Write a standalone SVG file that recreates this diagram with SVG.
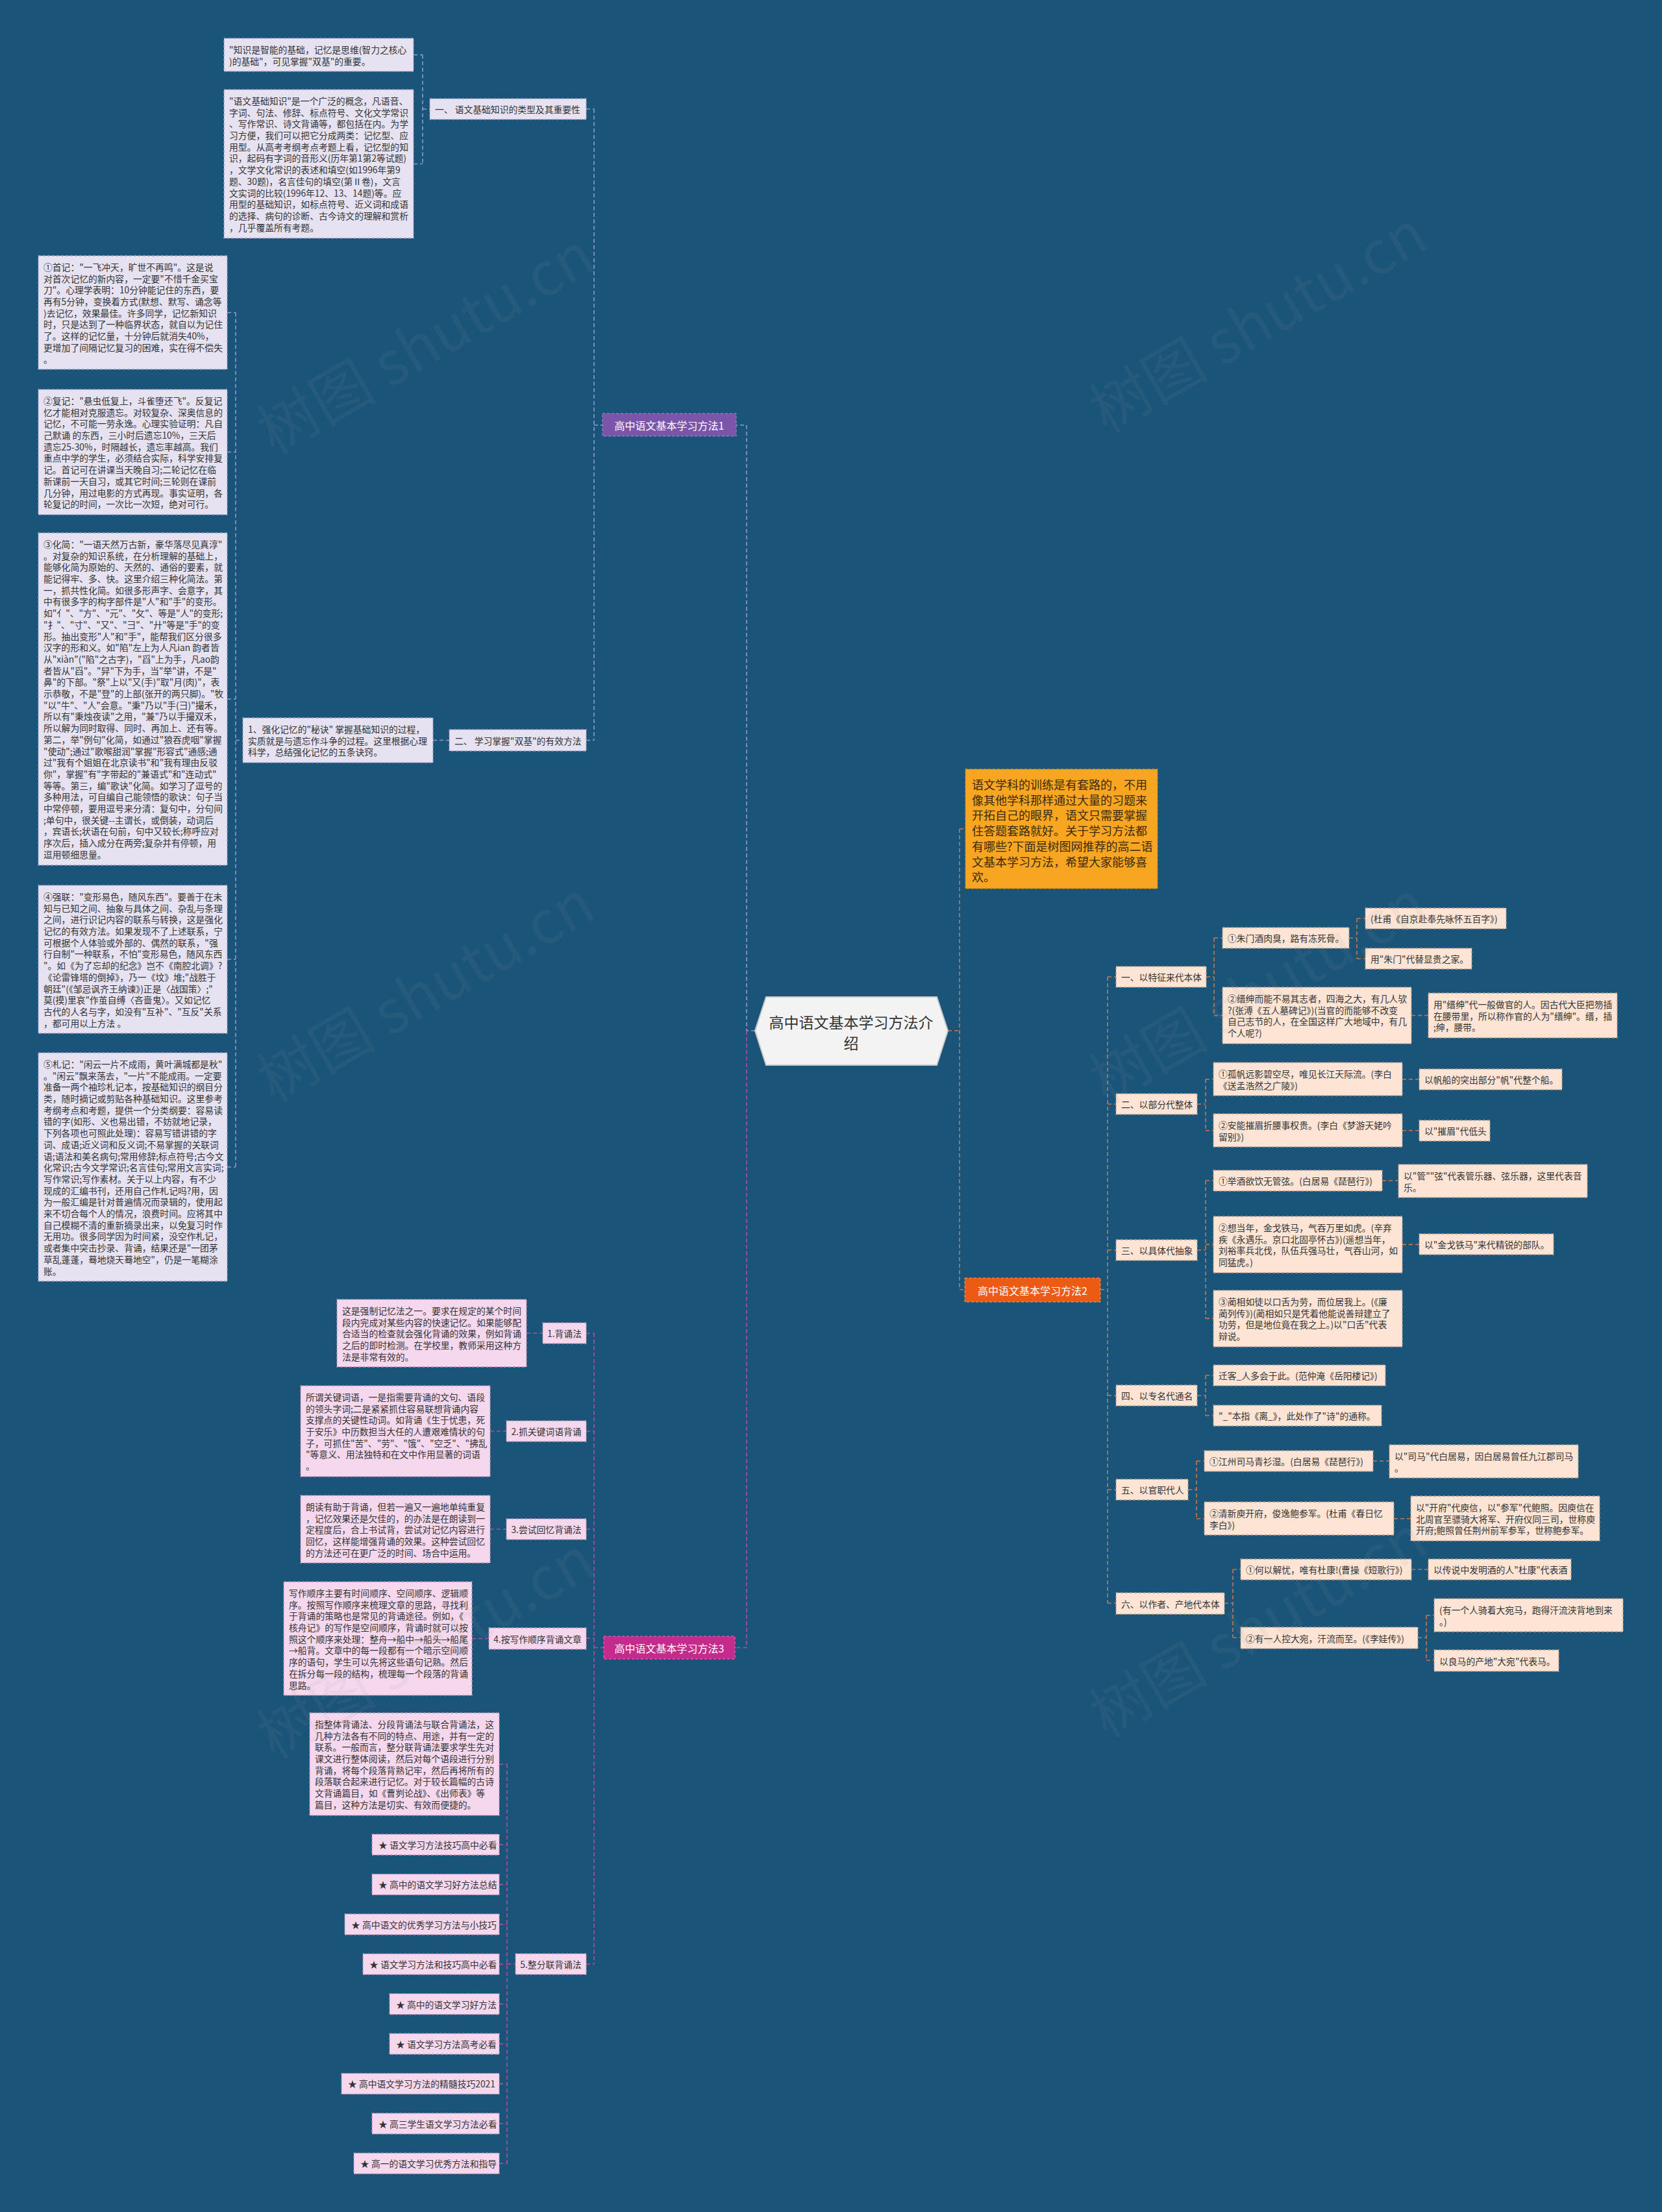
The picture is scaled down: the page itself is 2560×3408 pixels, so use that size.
<svg xmlns="http://www.w3.org/2000/svg" width="2560" height="3408" viewBox="0 0 2560 3408">
<style>
.t{font-family:"Noto Sans CJK SC","Noto Sans",sans-serif;font-size:13.8px;fill:#333;dominant-baseline:central}
.b1{fill:#e6e2f2;stroke:#9b9bc0;stroke-width:1.3;stroke-dasharray:4 3}
.b2{fill:#fde4d4;stroke:#b79b8a;stroke-width:1.3;stroke-dasharray:4 3}
.b3{fill:#f6d8ee;stroke:#b58fb0;stroke-width:1.3;stroke-dasharray:4 3}
.c{fill:none;stroke-width:1.6;stroke-dasharray:6 4}
.c1{stroke:#9296d4}.c2{stroke:#c8784a}.c3{stroke:#b44ba2}
.bt{font-family:"Noto Sans CJK SC","Noto Sans",sans-serif;font-size:16px;fill:#fff;dominant-baseline:central;text-anchor:middle}
.wm{font-family:"Noto Sans CJK SC","Noto Sans",sans-serif;font-size:92px;fill:#9a9a9a;opacity:0.09;text-anchor:middle;dominant-baseline:central}
</style>
<rect width="2560" height="3408" fill="#1a5479"/>
<g id="connectors">
<path class="c c1" d="M1163 1588H1150V655H1134M915 655H928M915 168V1140.5M903 168H915M903 1140.5H915M637 84.5H651M651 84.5V252.5M637 252.5H651M651 168H662M667 1140.5H692M363 481.5V1798M350 481.5H363M350 696.5H363M350 1077H363M350 1478H363M350 1798H363M363 1140.5H374"/>
<path class="c c3" d="M1150 1588V2538.5H1132M915 2538.5H930M915 2054V3026M903 2054H915M903 2205H915M903 2356H915M903 2524H915M903 3026H915M811 2054H836M755 2205H780M755 2356H780M727 2524.5H753M781 2718V3333.2M769 2718H781M769 2842H781M769 2903.4H781M769 2964.8H781M769 3026.2H781M769 3087.6H781M769 3149H781M769 3210.4H781M769 3271.8H781M769 3333.2H781M781 3026H794"/>
<path class="c c2" d="M1460 1588H1478M1478 1277V1987M1478 1277H1487M1478 1987H1486M1695 1987H1706M1706 1505V2470M1706 1505H1719M1706 1701H1719M1706 1926H1719M1706 2150H1719M1706 2295H1719M1706 2470H1719M1858 1505H1870M1870 1445V1564.5M1870 1445H1883M1870 1564.5H1883M2078 1445H2090M2090 1415V1477M2090 1415H2103M2090 1477H2103M2174 1564.5H2200M1844 1701H1857M1857 1662.7V1741.7M1857 1662.7H1869M1857 1741.7H1869M2160 1662.7H2186M2160 1741.7H2186M1844 1926H1857M1857 1819V2031.4M1857 1819H1869M1857 1917.4H1869M1857 2031.4H1869M2129 1819H2154M2160 1917.4H2186M1844 2150H1857M1857 2119V2181M1857 2119H1869M1857 2181H1869M1830 2295H1843M1843 2251V2339.7M1843 2251H1855M1843 2339.7H1855M2115 2251H2140M2147 2339.7H2173M1886 2470H1899M1899 2418V2523M1899 2418H1911M1899 2523H1911M2174 2418H2200M2184 2523H2197M2197 2488.7V2558M2197 2488.7H2209M2197 2558H2209"/>
</g>
<g id="center">
<polygon points="1163,1588 1180,1536 1443,1536 1460,1588 1443,1641 1180,1641" fill="#f3f3f3" stroke="#c9c9c9" stroke-width="2"/>
<text class="t" style="font-size:23px;fill:#333" text-anchor="middle"><tspan x="1311" y="1574">高中语文基本学习方法介</tspan><tspan x="1311" y="1606">绍</tspan></text>
</g>
<g id="branch1">
<rect x="928" y="637" width="206" height="35" fill="#7a55a9" stroke="#a58ad0" stroke-width="1" stroke-dasharray="4 3"/>
<text class="bt" x="1031" y="655">高中语文基本学习方法1</text>
</g>
<g id="branch3">
<rect x="930" y="2521" width="202" height="35" fill="#c42b8c" stroke="#e07ab8" stroke-width="1" stroke-dasharray="4 3"/>
<text class="bt" x="1031" y="2538.5">高中语文基本学习方法3</text>
</g>
<g id="branch2">
<rect x="1486" y="1969" width="209" height="37" fill="#ec5a14" stroke="#f79a66" stroke-width="1" stroke-dasharray="4 3"/>
<text class="bt" x="1590.5" y="1987.5">高中语文基本学习方法2</text>
</g>
<g id="intro">
<rect x="1487" y="1185" width="296" height="184" fill="#f8a521" stroke="#c98310" stroke-width="1.3" stroke-dasharray="4 3"/>
<text class="t" style="font-size:18px;fill:#3b2a10"><tspan x="1497" y="1208">语文学科的训练是有套路的，不用</tspan><tspan x="1497" y="1231.7">像其他学科那样通过大量的习题来</tspan><tspan x="1497" y="1255.4">开拓自己的眼界，语文只需要掌握</tspan><tspan x="1497" y="1279.1">住答题套路就好。关于学习方法都</tspan><tspan x="1497" y="1302.8">有哪些?下面是树图网推荐的高二语</tspan><tspan x="1497" y="1326.5">文基本学习方法，希望大家能够喜</tspan><tspan x="1497" y="1350.2">欢。</tspan></text>
</g>
<g id="b1-sec1">
<rect class="b1" x="662" y="152" width="241" height="32"/>
<text class="t" x="670" y="168">一、 语文基础知识的类型及其重要性</text>
</g>
<g id="b1-sec1-a">
<rect class="b1" x="345" y="59" width="292" height="51"/>
<text class="t"><tspan x="353" y="75.9">"知识是智能的基础，记忆是思维(智力之核心</tspan><tspan x="353" y="93.6">)的基础"，可见掌握"双基"的重要。</tspan></text>
</g>
<g id="b1-sec1-b">
<rect class="b1" x="345" y="138" width="292" height="229"/>
<text class="t"><tspan x="353" y="154.9">"语文基础知识"是一个广泛的概念，凡语音、</tspan><tspan x="353" y="172.6">字词、句法、修辞、标点符号、文化文学常识</tspan><tspan x="353" y="190.3">、写作常识、诗文背诵等，都包括在内。为学</tspan><tspan x="353" y="208">习方便，我们可以把它分成两类：记忆型、应</tspan><tspan x="353" y="225.7">用型。从高考考纲考点考题上看，记忆型的知</tspan><tspan x="353" y="243.4">识，起码有字词的音形义(历年第1第2等试题)</tspan><tspan x="353" y="261.1">，文学文化常识的表述和填空(如1996年第9</tspan><tspan x="353" y="278.8">题、30题)，名言佳句的填空(第Ⅱ卷)，文言</tspan><tspan x="353" y="296.5">文实词的比较(1996年12、13、14题)等。应</tspan><tspan x="353" y="314.2">用型的基础知识，如标点符号、近义词和成语</tspan><tspan x="353" y="331.9">的选择、病句的诊断、古今诗文的理解和赏析</tspan><tspan x="353" y="349.6">，几乎覆盖所有考题。</tspan></text>
</g>
<g id="b1-sec2">
<rect class="b1" x="692" y="1124" width="211" height="33"/>
<text class="t" x="700" y="1140.5">二、 学习掌握"双基"的有效方法</text>
</g>
<g id="b1-sec2-a">
<rect class="b1" x="374" y="1106" width="293" height="69"/>
<text class="t"><tspan x="382" y="1122.9">1、强化记忆的"秘诀" 掌握基础知识的过程，</tspan><tspan x="382" y="1140.6">实质就是与遗忘作斗争的过程。这里根据心理</tspan><tspan x="382" y="1158.3">科学，总结强化记忆的五条诀窍。</tspan></text>
</g>
<g id="note1">
<rect class="b1" x="59" y="394" width="291" height="175"/>
<text class="t"><tspan x="67" y="410.9">①首记："一飞冲天，旷世不再鸣"。这是说</tspan><tspan x="67" y="428.6">对首次记忆的新内容，一定要"不惜千金买宝</tspan><tspan x="67" y="446.3">刀"。心理学表明：10分钟能记住的东西，要</tspan><tspan x="67" y="464">再有5分钟，变换着方式(默想、默写、诵念等</tspan><tspan x="67" y="481.7">)去记忆，效果最佳。许多同学，记忆新知识</tspan><tspan x="67" y="499.4">时，只是达到了一种临界状态，就自以为记住</tspan><tspan x="67" y="517.1">了。这样的记忆量，十分钟后就消失40%，</tspan><tspan x="67" y="534.8">更增加了间隔记忆复习的困难，实在得不偿失</tspan><tspan x="67" y="552.5">。</tspan></text>
</g>
<g id="note2">
<rect class="b1" x="59" y="600" width="291" height="193"/>
<text class="t"><tspan x="67" y="616.9">②复记："悬虫低复上，斗雀堕还飞"。反复记</tspan><tspan x="67" y="634.6">忆才能相对克服遗忘。对较复杂、深奥信息的</tspan><tspan x="67" y="652.3">记忆，不可能一劳永逸。心理实验证明：凡自</tspan><tspan x="67" y="670">己默诵 的东西，三小时后遗忘10%，三天后</tspan><tspan x="67" y="687.7">遗忘25-30%，时隔越长，遗忘率越高。我们</tspan><tspan x="67" y="705.4">重点中学的学生，必须结合实际，科学安排复</tspan><tspan x="67" y="723.1">记。首记可在讲课当天晚自习;二轮记忆在临</tspan><tspan x="67" y="740.8">新课前一天自习，或其它时间;三轮则在课前</tspan><tspan x="67" y="758.5">几分钟，用过电影的方式再现。事实证明，各</tspan><tspan x="67" y="776.2">轮复记的时间，一次比一次短，绝对可行。</tspan></text>
</g>
<g id="note3">
<rect class="b1" x="59" y="821" width="291" height="512"/>
<text class="t"><tspan x="67" y="837.9">③化简："一语天然万古新，豪华落尽见真淳"</tspan><tspan x="67" y="855.6">。对复杂的知识系统，在分析理解的基础上，</tspan><tspan x="67" y="873.3">能够化简为原始的、天然的、通俗的要素，就</tspan><tspan x="67" y="891">能记得牢、多、快。这里介绍三种化简法。第</tspan><tspan x="67" y="908.7">一，抓共性化简。如很多形声字、会意字，其</tspan><tspan x="67" y="926.4">中有很多字的构字部件是"人"和"手"的变形。</tspan><tspan x="67" y="944.1">如"亻"、"方"、"元"、"攵"、等是"人"的变形;</tspan><tspan x="67" y="961.8">"扌"、"寸"、"又"、"彐"、"廾"等是"手"的变</tspan><tspan x="67" y="979.5">形。抽出变形"人"和"手"，能帮我们区分很多</tspan><tspan x="67" y="997.2">汉字的形和义。如"陷"左上为人凡ian 韵者皆</tspan><tspan x="67" y="1014.9">从"xiàn"("陷"之古字)，"舀"上为手，凡ao韵</tspan><tspan x="67" y="1032.6">者皆从"舀"。"舁"下为手，当"举"讲，不是"</tspan><tspan x="67" y="1050.3">鼻"的下部。"祭"上以"又(手)"取"月(肉)"，表</tspan><tspan x="67" y="1068">示恭敬，不是"登"的上部(张开的两只脚)。"牧</tspan><tspan x="67" y="1085.7">"以"牛"、"人"会意。"秉"乃以"手(彐)"撮禾，</tspan><tspan x="67" y="1103.4">所以有"秉烛夜读"之用，"兼"乃以手撮双禾，</tspan><tspan x="67" y="1121.1">所以解为同时取得、同时、再加上、还有等。</tspan><tspan x="67" y="1138.8">第二，举"例句"化简，如通过"狼吞虎咽"掌握</tspan><tspan x="67" y="1156.5">"使动";通过"歌喉甜润"掌握"形容式"通感;通</tspan><tspan x="67" y="1174.2">过"我有个姐姐在北京读书"和"我有理由反驳</tspan><tspan x="67" y="1191.9">你"，掌握"有"字带起的"兼语式"和"连动式"</tspan><tspan x="67" y="1209.6">等等。第三，编"歌诀"化简。如学习了逗号的</tspan><tspan x="67" y="1227.3">多种用法，可自编自己能领悟的歌诀：句子当</tspan><tspan x="67" y="1245">中常停顿，要用逗号来分清：复句中，分句间</tspan><tspan x="67" y="1262.7">;单句中，很关键--主谓长，或倒装，动词后</tspan><tspan x="67" y="1280.4">，宾语长;状语在句前，句中又较长;称呼应对</tspan><tspan x="67" y="1298.1">序次后，插入成分在两旁;复杂并有停顿，用</tspan><tspan x="67" y="1315.8">逗用顿细思量。</tspan></text>
</g>
<g id="note4">
<rect class="b1" x="59" y="1364" width="291" height="228"/>
<text class="t"><tspan x="67" y="1380.9">④强联："变形易色，随风东西"。要善于在未</tspan><tspan x="67" y="1398.6">知与已知之间、抽象与具体之间、杂乱与条理</tspan><tspan x="67" y="1416.3">之间，进行识记内容的联系与转换，这是强化</tspan><tspan x="67" y="1434">记忆的有效方法。如果发现不了上述联系，宁</tspan><tspan x="67" y="1451.7">可根据个人体验或外部的、偶然的联系，"强</tspan><tspan x="67" y="1469.4">行自制"一种联系，不怕"变形易色，随风东西</tspan><tspan x="67" y="1487.1">"。如《为了忘却的纪念》岂不《南腔北调》?</tspan><tspan x="67" y="1504.8">《论雷锋塔的倒掉》，乃一《坟》堆;"战胜于</tspan><tspan x="67" y="1522.5">朝廷"(《邹忌讽齐王纳谏》)正是〈战国策〉;"</tspan><tspan x="67" y="1540.2">莫(摸)里哀"作茧自缚〈吝啬鬼〉。又如记忆</tspan><tspan x="67" y="1557.9">古代的人名与字，如没有"互补"、"互反"关系</tspan><tspan x="67" y="1575.6">，都可用以上方法 。</tspan></text>
</g>
<g id="note5">
<rect class="b1" x="59" y="1622" width="291" height="352"/>
<text class="t"><tspan x="67" y="1638.9">⑤札记："闲云一片不成雨，黄叶满城都是秋"</tspan><tspan x="67" y="1656.6">。"闲云"飘来荡去，"一片"不能成雨。一定要</tspan><tspan x="67" y="1674.3">准备一两个袖珍札记本，按基础知识的纲目分</tspan><tspan x="67" y="1692">类，随时摘记或剪贴各种基础知识。这里参考</tspan><tspan x="67" y="1709.7">考纲考点和考题，提供一个分类纲要：容易读</tspan><tspan x="67" y="1727.4">错的字(如形、义也易出错，不妨就地记录，</tspan><tspan x="67" y="1745.1">下列各项也可照此处理)：容易写错讲错的字</tspan><tspan x="67" y="1762.8">词、成语;近义词和反义词;不易掌握的关联词</tspan><tspan x="67" y="1780.5">语;语法和美名病句;常用修辞;标点符号;古今文</tspan><tspan x="67" y="1798.2">化常识;古今文学常识;名言佳句;常用文言实词;</tspan><tspan x="67" y="1815.9">写作常识;写作素材。关于以上内容，有不少</tspan><tspan x="67" y="1833.6">现成的汇编书刊，还用自己作札记吗?用，因</tspan><tspan x="67" y="1851.3">为一般汇编是针对普遍情况而录辑的，使用起</tspan><tspan x="67" y="1869">来不切合每个人的情况，浪费时间。应将其中</tspan><tspan x="67" y="1886.7">自己模糊不清的重新摘录出来，以免复习时作</tspan><tspan x="67" y="1904.4">无用功。很多同学因为时间紧，没空作札记，</tspan><tspan x="67" y="1922.1">或者集中突击抄录、背诵，结果还是"一团茅</tspan><tspan x="67" y="1939.8">草乱蓬蓬，蓦地烧天蓦地空"，仍是一笔糊涂</tspan><tspan x="67" y="1957.5">账。</tspan></text>
</g>
<g id="m1">
<rect class="b3" x="836" y="2038" width="67" height="32"/>
<text class="t" x="869.5" y="2054" text-anchor="middle">1.背诵法</text>
</g>
<g id="m1-note">
<rect class="b3" x="519" y="2002" width="292" height="104"/>
<text class="t"><tspan x="527" y="2018.9">这是强制记忆法之一。要求在规定的某个时间</tspan><tspan x="527" y="2036.6">段内完成对某些内容的快速记忆。如果能够配</tspan><tspan x="527" y="2054.3">合适当的检查就会强化背诵的效果，例如背诵</tspan><tspan x="527" y="2072">之后的即时检测。在学校里，教师采用这种方</tspan><tspan x="527" y="2089.7">法是非常有效的。</tspan></text>
</g>
<g id="m2">
<rect class="b3" x="780" y="2189" width="123" height="32"/>
<text class="t" x="841.5" y="2205" text-anchor="middle">2.抓关键词语背诵</text>
</g>
<g id="m2-note">
<rect class="b3" x="463" y="2135" width="292" height="140"/>
<text class="t"><tspan x="471" y="2151.9">所谓关键词语，一是指需要背诵的文句、语段</tspan><tspan x="471" y="2169.6">的领头字词;二是紧紧抓住容易联想背诵内容</tspan><tspan x="471" y="2187.3">支撑点的关键性动词。如背诵《生于忧患，死</tspan><tspan x="471" y="2205">于安乐》中历数担当大任的人遭艰难情状的句</tspan><tspan x="471" y="2222.7">子，可抓住"苦"、"劳"、"饿"、"空乏"、"拂乱</tspan><tspan x="471" y="2240.4">"等意义、用法独特和在文中作用显著的词语</tspan><tspan x="471" y="2258.1">。</tspan></text>
</g>
<g id="m3">
<rect class="b3" x="780" y="2340" width="123" height="32"/>
<text class="t" x="841.5" y="2356" text-anchor="middle">3.尝试回忆背诵法</text>
</g>
<g id="m3-note">
<rect class="b3" x="463" y="2304" width="292" height="104"/>
<text class="t"><tspan x="471" y="2320.9">朗读有助于背诵，但若一遍又一遍地单纯重复</tspan><tspan x="471" y="2338.6">，记忆效果还是欠佳的，的办法是在朗读到一</tspan><tspan x="471" y="2356.3">定程度后，合上书试背，尝试对记忆内容进行</tspan><tspan x="471" y="2374">回忆，这样能增强背诵的效果。这种尝试回忆</tspan><tspan x="471" y="2391.7">的方法还可在更广泛的时间、场合中运用。</tspan></text>
</g>
<g id="m4">
<rect class="b3" x="753" y="2508" width="150" height="33"/>
<text class="t" x="828" y="2524.5" text-anchor="middle">4.按写作顺序背诵文章</text>
</g>
<g id="m4-note">
<rect class="b3" x="437" y="2437" width="290" height="175"/>
<text class="t"><tspan x="445" y="2453.9">写作顺序主要有时间顺序、空间顺序、逻辑顺</tspan><tspan x="445" y="2471.6">序。按照写作顺序来梳理文章的思路，寻找利</tspan><tspan x="445" y="2489.3">于背诵的策略也是常见的背诵途径。例如，《</tspan><tspan x="445" y="2507">核舟记》的写作是空间顺序，背诵时就可以按</tspan><tspan x="445" y="2524.7">照这个顺序来处理：整舟→船中→船头→船尾</tspan><tspan x="445" y="2542.4">→船背。文章中的每一段都有一个暗示空间顺</tspan><tspan x="445" y="2560.1">序的语句，学生可以先将这些语句记熟。然后</tspan><tspan x="445" y="2577.8">在拆分每一段的结构，梳理每一个段落的背诵</tspan><tspan x="445" y="2595.5">思路。</tspan></text>
</g>
<g id="m5">
<rect class="b3" x="794" y="3010" width="109" height="32"/>
<text class="t" x="848.5" y="3026" text-anchor="middle">5.整分联背诵法</text>
</g>
<g id="m5-note">
<rect class="b3" x="477" y="2639" width="292" height="158"/>
<text class="t"><tspan x="485" y="2655.9">指整体背诵法、分段背诵法与联合背诵法，这</tspan><tspan x="485" y="2673.6">几种方法各有不同的特点、用途，并有一定的</tspan><tspan x="485" y="2691.3">联系。一般而言，整分联背诵法要求学生先对</tspan><tspan x="485" y="2709">课文进行整体阅读，然后对每个语段进行分别</tspan><tspan x="485" y="2726.7">背诵，将每个段落背熟记牢，然后再将所有的</tspan><tspan x="485" y="2744.4">段落联合起来进行记忆。对于较长篇幅的古诗</tspan><tspan x="485" y="2762.1">文背诵篇目，如《曹刿论战》、《出师表》等</tspan><tspan x="485" y="2779.8">篇目，这种方法是切实、有效而便捷的。</tspan></text>
</g>
<g id="s1"><rect class="b3" x="573" y="2826" width="196" height="32"/><text class="t" x="583" y="2842">★ 语文学习方法技巧高中必看</text></g>
<g id="s2"><rect class="b3" x="573" y="2887.4" width="196" height="32"/><text class="t" x="583" y="2903.4">★ 高中的语文学习好方法总结</text></g>
<g id="s3"><rect class="b3" x="531" y="2948.8" width="238" height="32"/><text class="t" x="541" y="2964.8">★ 高中语文的优秀学习方法与小技巧</text></g>
<g id="s4"><rect class="b3" x="559" y="3010.2" width="210" height="32"/><text class="t" x="569" y="3026.2">★ 语文学习方法和技巧高中必看</text></g>
<g id="s5"><rect class="b3" x="600" y="3071.6" width="169" height="32"/><text class="t" x="610" y="3087.6">★ 高中的语文学习好方法</text></g>
<g id="s6"><rect class="b3" x="600" y="3133" width="169" height="32"/><text class="t" x="610" y="3149">★ 语文学习方法高考必看</text></g>
<g id="s7"><rect class="b3" x="526" y="3194.4" width="243" height="32"/><text class="t" x="536" y="3210.4">★ 高中语文学习方法的精髓技巧2021</text></g>
<g id="s8"><rect class="b3" x="573" y="3255.8" width="196" height="32"/><text class="t" x="583" y="3271.8">★ 高三学生语文学习方法必看</text></g>
<g id="s9"><rect class="b3" x="545" y="3317.2" width="224" height="32"/><text class="t" x="555" y="3333.2">★ 高一的语文学习优秀方法和指导</text></g>
<g id="r1"><rect class="b2" x="1719" y="1489" width="139" height="32"/><text class="t" x="1727" y="1505">一、以特征来代本体</text></g>
<g id="r1a"><rect class="b2" x="1883" y="1429" width="195" height="32"/><text class="t" x="1891" y="1445">①朱门酒肉臭，路有冻死骨。</text></g>
<g id="r1a1"><rect class="b2" x="2103" y="1399" width="217" height="32"/><text class="t" x="2111" y="1415">(杜甫《自京赴奉先咏怀五百字》)</text></g>
<g id="r1a2"><rect class="b2" x="2103" y="1461" width="164" height="32"/><text class="t" x="2111" y="1477">用"朱门"代替显贵之家。</text></g>
<g id="r1b"><rect class="b2" x="1883" y="1521" width="291" height="87"/><text class="t"><tspan x="1891" y="1537.9">②缙绅而能不易其志者，四海之大，有几人欤</tspan><tspan x="1891" y="1555.6">?(张溥《五人墓碑记》)(当官的而能够不改变</tspan><tspan x="1891" y="1573.3">自己志节的人，在全国这样广大地域中，有几</tspan><tspan x="1891" y="1591">个人呢?)</tspan></text></g>
<g id="r1b1"><rect class="b2" x="2200" y="1530" width="291" height="69"/><text class="t"><tspan x="2208" y="1546.9">用"缙绅"代一般做官的人。因古代大臣把笏插</tspan><tspan x="2208" y="1564.6">在腰带里，所以称作官的人为"缙绅"。缙，插</tspan><tspan x="2208" y="1582.3">;绅，腰带。</tspan></text></g>
<g id="r2"><rect class="b2" x="1719" y="1685" width="125" height="32"/><text class="t" x="1727" y="1701">二、以部分代整体</text></g>
<g id="r2a"><rect class="b2" x="1869" y="1637" width="291" height="51"/><text class="t"><tspan x="1877" y="1653.9">①孤帆远影碧空尽，唯见长江天际流。(李白</tspan><tspan x="1877" y="1671.6">《送孟浩然之广陵》)</tspan></text></g>
<g id="r2a1"><rect class="b2" x="2186" y="1647" width="220" height="32"/><text class="t" x="2194" y="1663">以帆船的突出部分"帆"代整个船。</text></g>
<g id="r2b"><rect class="b2" x="1869" y="1716" width="291" height="51"/><text class="t"><tspan x="1877" y="1732.9">②安能摧眉折腰事权贵。(李白《梦游天姥吟</tspan><tspan x="1877" y="1750.6">留别》)</tspan></text></g>
<g id="r2b1"><rect class="b2" x="2186" y="1726" width="109" height="32"/><text class="t" x="2194" y="1742">以"摧眉"代低头</text></g>
<g id="r3"><rect class="b2" x="1719" y="1910" width="125" height="32"/><text class="t" x="1727" y="1926">三、以具体代抽象</text></g>
<g id="r3a"><rect class="b2" x="1869" y="1803" width="260" height="32"/><text class="t" x="1877" y="1819">①举酒欲饮无管弦。(白居易《琵琶行》)</text></g>
<g id="r3a1"><rect class="b2" x="2154" y="1794" width="291" height="51"/><text class="t"><tspan x="2162" y="1810.9">以"管""弦"代表管乐器、弦乐器，这里代表音</tspan><tspan x="2162" y="1828.6">乐。</tspan></text></g>
<g id="r3b"><rect class="b2" x="1869" y="1874" width="291" height="87"/><text class="t"><tspan x="1877" y="1890.9">②想当年，金戈铁马，气吞万里如虎。(辛弃</tspan><tspan x="1877" y="1908.6">疾《永遇乐。京口北固亭怀古》)(遥想当年，</tspan><tspan x="1877" y="1926.3">刘裕率兵北伐，队伍兵强马壮，气吞山河，如</tspan><tspan x="1877" y="1944">同猛虎。)</tspan></text></g>
<g id="r3b1"><rect class="b2" x="2186" y="1901" width="207" height="32"/><text class="t" x="2194" y="1917">以"金戈铁马"来代精锐的部队。</text></g>
<g id="r3c"><rect class="b2" x="1869" y="1988" width="291" height="87"/><text class="t"><tspan x="1877" y="2004.9">③蔺相如徒以口舌为劳，而位居我上。(《廉</tspan><tspan x="1877" y="2022.6">蔺列传》)(蔺相如只是凭着他能说善辩建立了</tspan><tspan x="1877" y="2040.3">功劳，但是地位竟在我之上。)以"口舌"代表</tspan><tspan x="1877" y="2058">辩说。</tspan></text></g>
<g id="r4"><rect class="b2" x="1719" y="2134" width="125" height="32"/><text class="t" x="1727" y="2150">四、以专名代通名</text></g>
<g id="r4a"><rect class="b2" x="1869" y="2103" width="265" height="32"/><text class="t" x="1877" y="2119">迁客_人多会于此。(范仲淹《岳阳楼记》)</text></g>
<g id="r4b"><rect class="b2" x="1869" y="2165" width="259" height="32"/><text class="t" x="1877" y="2181">"_"本指《离_》，此处作了"诗"的通称。</text></g>
<g id="r5"><rect class="b2" x="1719" y="2279" width="111" height="32"/><text class="t" x="1727" y="2295">五、以官职代人</text></g>
<g id="r5a"><rect class="b2" x="1855" y="2235" width="260" height="32"/><text class="t" x="1863" y="2251">①江州司马青衫湿。(白居易《琵琶行》)</text></g>
<g id="r5a1"><rect class="b2" x="2140" y="2226" width="291" height="51"/><text class="t"><tspan x="2148" y="2242.9">以"司马"代白居易，因白居易曾任九江郡司马</tspan><tspan x="2148" y="2260.6">。</tspan></text></g>
<g id="r5b"><rect class="b2" x="1855" y="2314" width="292" height="51"/><text class="t"><tspan x="1863" y="2330.9">②清新庾开府，俊逸鲍参军。(杜甫《春日忆</tspan><tspan x="1863" y="2348.6">李白》)</tspan></text></g>
<g id="r5b1"><rect class="b2" x="2173" y="2305" width="291" height="69"/><text class="t"><tspan x="2181" y="2321.9">以"开府"代庾信，以"参军"代鲍照。因庾信在</tspan><tspan x="2181" y="2339.6">北周官至骠骑大将军、开府仪同三司，世称庾</tspan><tspan x="2181" y="2357.3">开府;鲍照曾任荆州前军参军，世称鲍参军。</tspan></text></g>
<g id="r6"><rect class="b2" x="1719" y="2454" width="167" height="33"/><text class="t" x="1727" y="2470.5">六、以作者、产地代本体</text></g>
<g id="r6a"><rect class="b2" x="1911" y="2402" width="263" height="32"/><text class="t" x="1919" y="2418">①何以解忧，唯有杜康!(曹操《短歌行》)</text></g>
<g id="r6a1"><rect class="b2" x="2200" y="2402" width="220" height="32"/><text class="t" x="2208" y="2418">以传说中发明酒的人"杜康"代表酒</text></g>
<g id="r6b"><rect class="b2" x="1911" y="2507" width="273" height="33"/><text class="t" x="1919" y="2523.5">②有一人控大宛，汗流而至。(《李娃传》)</text></g>
<g id="r6b1"><rect class="b2" x="2209" y="2463" width="291" height="51"/><text class="t"><tspan x="2217" y="2479.9">(有一个人骑着大宛马，跑得汗流浃背地到来</tspan><tspan x="2217" y="2497.6">。)</tspan></text></g>
<g id="r6b2"><rect class="b2" x="2209" y="2542" width="192" height="33"/><text class="t" x="2217" y="2558.5">以良马的产地"大宛"代表马。</text></g>
<g id="watermarks">
<text class="wm" x="652" y="522" transform="rotate(-30 652 522)">树图 shutu.cn</text>
<text class="wm" x="1934" y="489" transform="rotate(-30 1934 489)">树图 shutu.cn</text>
<text class="wm" x="652" y="1521" transform="rotate(-30 652 1521)">树图 shutu.cn</text>
<text class="wm" x="1934" y="1521" transform="rotate(-30 1934 1521)">树图 shutu.cn</text>
<text class="wm" x="652" y="2532" transform="rotate(-30 652 2532)">树图 shutu.cn</text>
<text class="wm" x="1934" y="2499" transform="rotate(-30 1934 2499)">树图 shutu.cn</text>
</g>
</svg>
